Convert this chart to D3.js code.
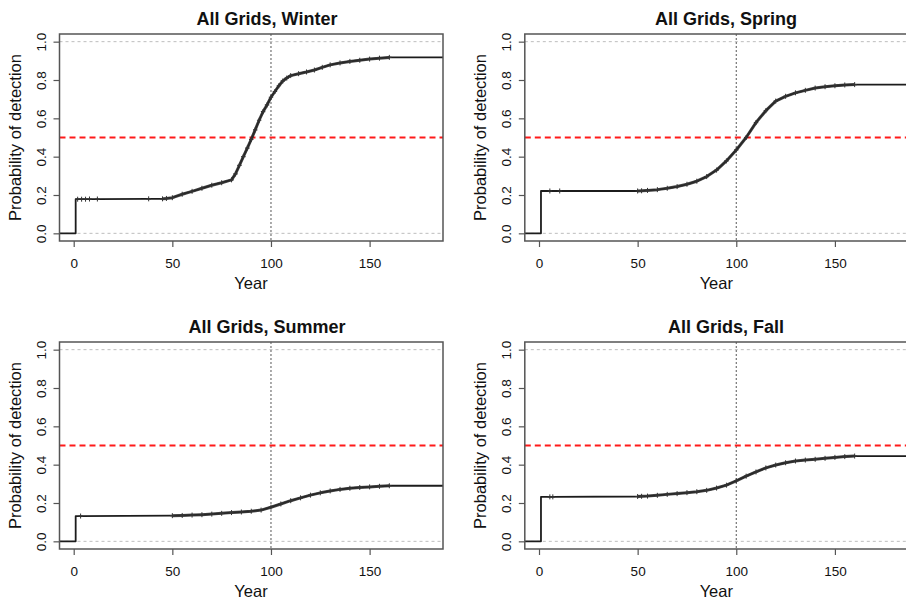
<!DOCTYPE html>
<html>
<head>
<meta charset="utf-8">
<script src="https://cdn.jsdelivr.net/npm/d3@7"></script>
<style>
  html, body { margin: 0; padding: 0; background: #fff; }
  svg { display: block; }
  text { font-family: "Liberation Sans", Arial, Helvetica, sans-serif; fill: #111; }
</style>
</head>
<body>
<svg id="chart" width="906" height="601"></svg>
<script>
// Cumulative probability of detection by year, one curve per season.
const seasons = ["Winter", "Spring", "Summer", "Fall"];

const winterYear = [-10, 1, 1, 2, 4, 6, 8, 12, 38, 45, 47, 50, 55, 60, 65, 70, 75, 80, 82, 84, 86, 88, 90, 92, 94, 96, 98, 100, 102, 104, 106, 108, 110, 114, 118, 122, 126, 130, 135, 140, 145, 150, 155, 160, 200];
const winterProb = [0, 0, 0.178, 0.178, 0.178, 0.178, 0.179, 0.179, 0.18, 0.18, 0.182, 0.186, 0.204, 0.219, 0.235, 0.251, 0.264, 0.279, 0.31, 0.355, 0.40, 0.445, 0.49, 0.54, 0.59, 0.635, 0.67, 0.71, 0.74, 0.77, 0.795, 0.81, 0.823, 0.833, 0.842, 0.852, 0.866, 0.879, 0.889, 0.897, 0.903, 0.909, 0.914, 0.918, 0.918];

const springYear = [-10, 1, 1, 5.5, 10.5, 50, 52, 55, 60, 65, 70, 75, 80, 85, 90, 95, 100, 105, 110, 115, 120, 125, 130, 135, 140, 145, 150, 155, 160, 200];
const springProb = [0, 0, 0.221, 0.221, 0.221, 0.221, 0.222, 0.224, 0.228, 0.235, 0.244, 0.256, 0.272, 0.296, 0.33, 0.378, 0.435, 0.50, 0.578, 0.64, 0.69, 0.715, 0.733, 0.746, 0.758, 0.765, 0.77, 0.774, 0.776, 0.776];

const summerYear = [-10, 1, 1, 3.5, 50, 55, 60, 65, 70, 75, 80, 85, 90, 95, 100, 105, 110, 115, 120, 125, 130, 135, 140, 145, 150, 155, 160, 200];
const summerProb = [0, 0, 0.132, 0.132, 0.134, 0.135, 0.137, 0.139, 0.142, 0.146, 0.15, 0.153, 0.157, 0.163, 0.178, 0.195, 0.212, 0.227, 0.241, 0.253, 0.263, 0.271, 0.277, 0.281, 0.284, 0.287, 0.29, 0.29];

const fallYear = [-10, 1, 1, 5.5, 7, 50, 52, 55, 60, 65, 70, 75, 80, 85, 90, 95, 100, 105, 110, 115, 120, 125, 130, 135, 140, 145, 150, 155, 160, 200];
const fallProb = [0, 0, 0.232, 0.232, 0.232, 0.234, 0.235, 0.236, 0.24, 0.245, 0.249, 0.254, 0.259, 0.266, 0.278, 0.293, 0.316, 0.34, 0.362, 0.383, 0.398, 0.41, 0.419, 0.424, 0.428, 0.433, 0.438, 0.442, 0.445, 0.445];

const xTicks = [0, 50, 100, 150];
const yTicks = [0, 0.2, 0.4, 0.6, 0.8, 1.0];
const yTickLabels = ["0.0", "0.2", "0.4", "0.6", "0.8", "1.0"];
const referenceYear = 100;
const halfLevel = 0.5;

const seriesYears = [winterYear, springYear, summerYear, fallYear];
const seriesProbs = [winterProb, springProb, summerProb, fallProb];

// Panel layout (2 x 2)
const colLeft = [59.5, 524.8];
const colTitleX = [267, 726];
const rowTop = [34, 342];
const boxW = 383.5, boxH = 207.0;
const xDomain = [-7.2, 187.2];
const yDomain = [-0.04, 1.04];

const svg = d3.select("#chart");
const defs = svg.append("defs");

seasons.forEach((season, i) => {
  const col = i % 2, row = Math.floor(i / 2);
  const x0 = colLeft[col], y0 = rowTop[row];
  const x = d3.scaleLinear().domain(xDomain).range([x0, x0 + boxW]);
  const y = d3.scaleLinear().domain(yDomain).range([y0 + boxH, y0]);

  const clipId = "clip" + i;
  defs.append("clipPath").attr("id", clipId)
    .append("rect").attr("x", x0).attr("y", y0).attr("width", boxW).attr("height", boxH);

  const g = svg.append("g");
  const plot = g.append("g").attr("clip-path", `url(#${clipId})`);

  // light reference lines at 0 and 1
  plot.selectAll("line.ref").data([0, 1]).join("line")
    .attr("x1", x0).attr("x2", x0 + boxW)
    .attr("y1", d => y(d)).attr("y2", d => y(d))
    .attr("stroke", "#bdbdbd").attr("stroke-width", 1)
    .attr("stroke-dasharray", "3,3");

  // vertical dotted line at year 100
  plot.append("line")
    .attr("x1", x(referenceYear)).attr("x2", x(referenceYear))
    .attr("y1", y0).attr("y2", y0 + boxH)
    .attr("stroke", "#666").attr("stroke-width", 1.1)
    .attr("stroke-dasharray", "2,2");

  // red dashed 0.5 threshold
  plot.append("line")
    .attr("x1", x0).attr("x2", x0 + boxW)
    .attr("y1", y(halfLevel)).attr("y2", y(halfLevel))
    .attr("stroke", "#ff1a1a").attr("stroke-width", 2)
    .attr("stroke-dasharray", "6,4");

  const pts = seriesYears[i].map((yr, k) => [yr, seriesProbs[i][k]]);
  const line = d3.line().x(d => x(d[0])).y(d => y(d[1]));

  plot.append("path").datum(pts)
    .attr("d", line)
    .attr("fill", "none").attr("stroke", "#1c1c1c").attr("stroke-width", 1.8)
    .attr("stroke-linejoin", "round");

  // denser censoring band over the observed stretch
  const band = pts.filter(d => d[0] >= 45 && d[0] <= 160);
  plot.append("path").datum(band)
    .attr("d", line)
    .attr("fill", "none").attr("stroke", "#2a2a2a").attr("stroke-width", 3)
    .attr("stroke-linejoin", "round").attr("opacity", 0.85);

  // censoring marks
  const marks = pts.filter((d, k) => d[0] > 1 && d[0] <= 160);
  const mk = plot.selectAll("g.mark").data(marks).join("g")
    .attr("transform", d => `translate(${x(d[0])},${y(d[1])})`);
  mk.append("line").attr("x1", 0).attr("x2", 0).attr("y1", -2.5).attr("y2", 2.5)
    .attr("stroke", "#333").attr("stroke-width", 1);
  mk.append("line").attr("x1", -2.2).attr("x2", 2.2).attr("y1", 0).attr("y2", 0)
    .attr("stroke", "#333").attr("stroke-width", 1.2);

  // box
  g.append("rect").attr("x", x0).attr("y", y0).attr("width", boxW).attr("height", boxH)
    .attr("fill", "none").attr("stroke", "#555").attr("stroke-width", 1.5);

  // x axis
  const xAxis = d3.axisBottom(x).tickValues(xTicks).tickSize(6).tickPadding(4)
    .tickFormat(d3.format("d"));
  const xa = g.append("g").attr("transform", `translate(0,${y0 + boxH})`).call(xAxis);
  xa.select(".domain").remove();
  xa.selectAll(".tick line").attr("stroke", "#555").attr("stroke-width", 1.2);
  xa.selectAll(".tick text").attr("font-size", 13.5).attr("fill", "#111")
    .attr("font-family", "Liberation Sans, Arial, sans-serif")
    .attr("dy", null).attr("y", 27);

  // y axis with labels parallel to the axis
  const yAxis = d3.axisLeft(y).tickValues(yTicks).tickSize(6)
    .tickFormat((d, k) => yTickLabels[k]);
  const ya = g.append("g").attr("transform", `translate(${x0},0)`).call(yAxis);
  ya.select(".domain").remove();
  ya.selectAll(".tick line").attr("stroke", "#555").attr("stroke-width", 1.2);
  ya.selectAll(".tick text")
    .attr("font-size", 13.5).attr("fill", "#111")
    .attr("font-family", "Liberation Sans, Arial, sans-serif")
    .attr("x", null).attr("dy", null)
    .attr("text-anchor", "middle")
    .attr("transform", "translate(-13.5,0) rotate(-90)");

  // titles and axis labels
  g.append("text").attr("x", colTitleX[col]).attr("y", y0 - 9.5)
    .attr("text-anchor", "middle").attr("font-size", 18).attr("font-weight", "bold")
    .text("All Grids, " + season);

  g.append("text").attr("x", x0 + boxW * (251 - 59.5) / boxW).attr("y", y0 + boxH + 48)
    .attr("text-anchor", "middle").attr("font-size", 16.5)
    .text("Year");

  g.append("text")
    .attr("transform", `translate(${x0 - 39},${y0 + boxH / 2}) rotate(-90)`)
    .attr("text-anchor", "middle").attr("font-size", 16.5)
    .text("Probability of detection");
});
</script>
</body>
</html>
